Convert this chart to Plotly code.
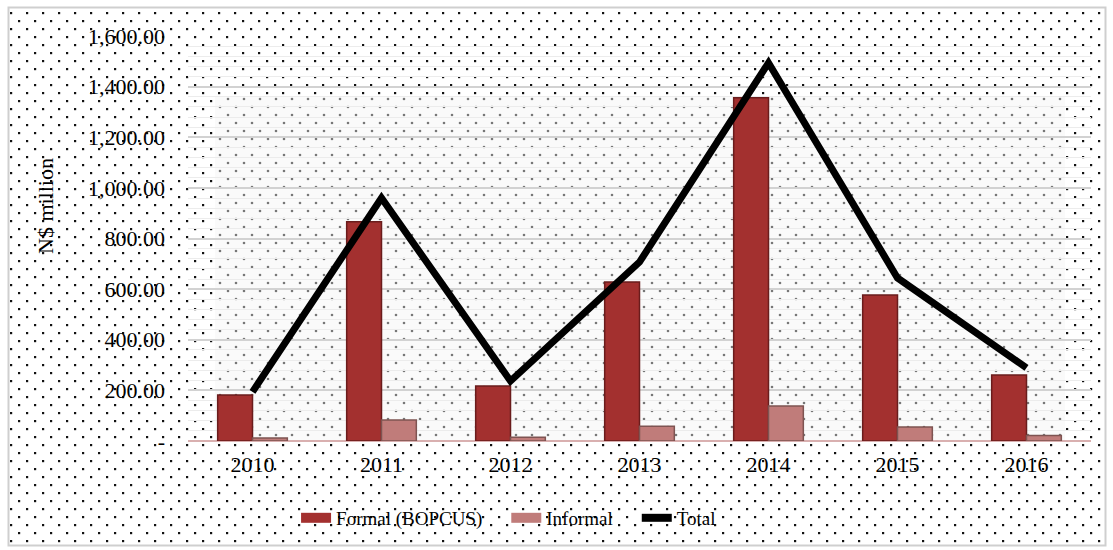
import base64
import plotly.graph_objects as go

years = ["2010", "2011", "2012", "2013", "2014", "2015", "2016"]
formal = [182, 866, 217, 628, 1356, 577, 261]
informal = [12, 83, 15, 58, 138, 55, 22]
total = [194, 960, 237, 707, 1494, 644, 289]

y_tickvals = [0, 200, 400, 600, 800, 1000, 1200, 1400, 1600]
y_ticktext = ["-", "200.00", "400.00", "600.00", "800.00", "1,000.00",
              "1,200.00", "1,400.00", "1,600.00"]

W, H = 1113, 550
FONT = "Liberation Serif, Times New Roman, serif"
FS = 22
FORMAL_C = "#A3302F"
INFORMAL_C = "#C07C7A"
PAD = "\u00a0" * 4

# decorative dotted background (chart area + lighter plot-area fill)
svg = f'''<svg xmlns="http://www.w3.org/2000/svg" width="{W}" height="{H}" viewBox="0 0 {W} {H}" preserveAspectRatio="none">
<defs>
<pattern id="outer" x="0" y="0" width="16" height="16" patternUnits="userSpaceOnUse">
<rect x="2" y="4" width="2.2" height="2.2" fill="#111"/>
<rect x="10" y="12" width="2.2" height="2.2" fill="#111"/>
</pattern>
<pattern id="inner" x="0" y="0" width="16" height="16" patternUnits="userSpaceOnUse">
<circle cx="4" cy="3" r="1.3" fill="#777"/>
<circle cx="12" cy="11" r="1.3" fill="#777"/>
</pattern>
</defs>
<rect x="0" y="0" width="{W}" height="{H}" fill="white"/>
<rect x="8.5" y="7.5" width="1097" height="538" fill="url(#outer)" stroke="#cfcfcf" stroke-width="2"/>
<rect x="215" y="97" width="850" height="344" fill="#fafafa"/>
<rect x="215" y="97" width="850" height="344" fill="url(#inner)"/>
</svg>'''
src = "data:image/svg+xml;base64," + base64.b64encode(svg.encode()).decode()

fig = go.Figure()
fig.add_trace(go.Bar(
    x=years, y=formal, name="Formal (BOPCUS)", showlegend=False,
    marker=dict(color=FORMAL_C, line=dict(color="#6A1C1C", width=1.5)),
))
fig.add_trace(go.Bar(
    x=years, y=informal, name="Informal", showlegend=False,
    marker=dict(color=INFORMAL_C, line=dict(color="#7E5452", width=1.5)),
))
fig.add_trace(go.Scatter(
    x=years, y=total, name="Total", mode="lines", showlegend=False,
    line=dict(color="black", width=7),
))
# legend entries with wide swatches (as in the reference)
for nm, col, w in [("Formal (BOPCUS)" + PAD, FORMAL_C, 10), ("Informal" + PAD, INFORMAL_C, 10),
                   ("Total", "black", 8)]:
    fig.add_trace(go.Scatter(x=[None], y=[None], name=nm, mode="lines",
                             line=dict(color=col, width=w), showlegend=True))

fig.update_layout(
    width=W, height=H,
    margin=dict(l=188, r=22, t=36, b=109),
    paper_bgcolor="white",
    plot_bgcolor="rgba(0,0,0,0)",
    barmode="group", bargap=0.46, bargroupgap=0,
    font=dict(family=FONT, size=FS, color="black"),
    showlegend=True,
    legend=dict(orientation="h", x=0.355, xanchor="center", y=-0.19, yanchor="middle",
                bgcolor="rgba(0,0,0,0)", font=dict(size=19), traceorder="normal"),
    images=[dict(source=src, xref="paper", yref="paper", x=-188/903, y=1 + 36/405,
                 sizex=W/903, sizey=H/405, xanchor="left", yanchor="top",
                 sizing="stretch", layer="below")],
    annotations=[dict(text="N$ million", textangle=-90, xref="paper", yref="paper",
                      x=(45 - 188) / 903, y=(441 - 206) / 405, showarrow=False,
                      xanchor="center", yanchor="middle", font=dict(size=FS))],
)
fig.update_xaxes(showgrid=False, showline=False, ticks="", ticklabelstandoff=8,
                 tickfont=dict(size=FS))
fig.update_yaxes(range=[0, 1600], tickvals=y_tickvals, ticktext=y_ticktext,
                 showgrid=True, gridcolor="#d2d2d2", gridwidth=1.5,
                 minor=dict(dtick=40, showgrid=True, gridcolor="#ececec", gridwidth=1),
                 zeroline=True, zerolinecolor="#d9b0b0", zerolinewidth=2,
                 ticks="", ticklabelstandoff=22, tickfont=dict(size=FS))

fig.write_html("out.html")
